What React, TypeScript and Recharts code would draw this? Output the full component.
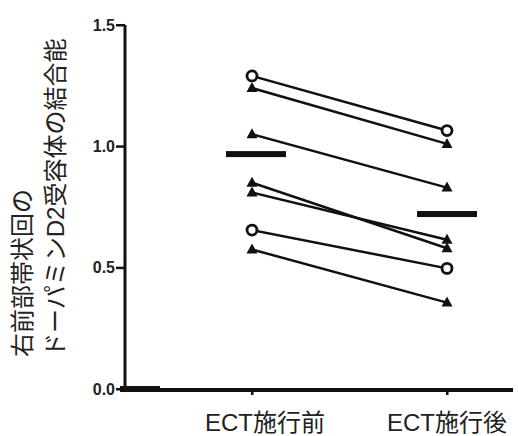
import React from 'react';
import { ComposedChart, Line, XAxis, YAxis } from 'recharts';

const categories = ['ECT施行前', 'ECT施行後'];
const beforeValues = [1.29, 1.24, 1.05, 0.85, 0.81, 0.655, 0.575];
const afterValues = [1.065, 1.01, 0.83, 0.58, 0.615, 0.497, 0.356];
const markers = ['circle', 'triangle', 'triangle', 'triangle', 'triangle', 'circle', 'triangle'];
const means = [0.968, 0.721];
const yTicks = [0, 0.5, 1.0, 1.5];
const yLabelLines = ['右前部帯状回の', 'ドーパミンD2受容体の結合能'];

const data = categories.map((c, i) => {
  const row: any = { cat: c, mean: means[i] };
  beforeValues.forEach((v, k) => {
    row['s' + k] = i === 0 ? v : afterValues[k];
  });
  return row;
});

const FONT = '"Liberation Sans", Arial, "Noto Sans CJK JP", sans-serif';
const INK = '#111';

const CircleDot = (props: any) => {
  const { cx, cy } = props;
  if (cx == null || cy == null) return null;
  return <circle cx={cx} cy={cy} r={5} fill="#fff" stroke={INK} strokeWidth={2.8} />;
};

const TriangleDot = (props: any) => {
  const { cx, cy } = props;
  if (cx == null || cy == null) return null;
  return (
    <path
      d={`M${cx},${cy - 6} L${cx + 5.5},${cy + 4} L${cx - 5.5},${cy + 4} Z`}
      fill={INK}
    />
  );
};

const MeanDot = (props: any) => {
  const { cx, cy, index } = props;
  if (cx == null || cy == null) return null;
  const shift = index === 0 ? 4 : 0;
  return <rect x={cx - 30 + shift} y={cy - 3} width={60} height={6} fill={INK} />;
};

const XTick = (props: any) => {
  const { x, y, payload, index } = props;
  return (
    <g>
      {index === 0 && <rect x={x - 128} y={y - 9} width={389} height={4} fill={INK} />}
      <rect x={x - 1} y={y - 8} width={2.5} height={6} fill={INK} />
      <text
        x={x + (index === 0 ? 13 : 0)}
        y={y}
        dy={34}
        textAnchor="middle"
        fontSize={24}
        fill="#222"
        stroke="none"
        fontFamily={FONT}
      >
        {payload.value}
      </text>
    </g>
  );
};

const YTick = (props: any) => {
  const { x, y, payload } = props;
  return (
    <g>
      <rect x={x + 1} y={y - 1} width={9} height={2.5} fill={INK} />
      {payload.value === 0 && <rect x={x + 5} y={y - 3} width={40} height={6} fill={INK} />}
      {payload.value === 0 && <rect x={x + 8.5} y={y - 364} width={3} height={364} fill={INK} />}
      <text
        x={x}
        y={y}
        dy="0.355em"
        textAnchor="end"
        fontSize={16}
        fontWeight="bold"
        fill="#222"
        stroke="none"
        fontFamily={FONT}
      >
        {Number(payload.value).toFixed(1)}
      </text>
    </g>
  );
};

const YLabel = () => (
  <g>
    {yLabelLines.map((t, i) => {
      const lx = 22 + i * 33;
      const ly = 357;
      return (
        <text
          key={i}
          x={lx}
          y={ly}
          transform={`rotate(-90, ${lx}, ${ly})`}
          textAnchor="start"
          dominantBaseline="central"
          fontSize={24}
          fill="#222"
          fontFamily={FONT}
        >
          {t}
        </text>
      );
    })}
  </g>
);

export default function App() {
  return (
    <div style={{ position: 'absolute', left: 0, top: 0, background: '#fff' }}>
      <ComposedChart
        width={518}
        height={436}
        data={data}
        margin={{ top: 25, right: 5, bottom: 0, left: 0 }}
      >
        <XAxis
          dataKey="cat"
          scale="point"
          padding={{ left: 127, right: 66 }}
          height={47}
          axisLine={false}
          tickLine={false}
          tick={<XTick />}
          interval={0}
        />
        <YAxis
          type="number"
          domain={[0, 1.5]}
          ticks={yTicks}
          width={125}
          axisLine={false}
          tickLine={false}
          tickSize={9}
          tickMargin={1}
          tick={<YTick />}
          label={{ content: () => <YLabel /> }}
        />
        {beforeValues.map((_, k) => (
          <Line
            key={k}
            dataKey={'s' + k}
            stroke={INK}
            strokeWidth={2.5}
            isAnimationActive={false}
            dot={markers[k] === 'circle' ? <CircleDot /> : <TriangleDot />}
            activeDot={false}
          />
        ))}
        <Line
          dataKey="mean"
          stroke="none"
          isAnimationActive={false}
          dot={<MeanDot />}
          activeDot={false}
        />
      </ComposedChart>
    </div>
  );
}
